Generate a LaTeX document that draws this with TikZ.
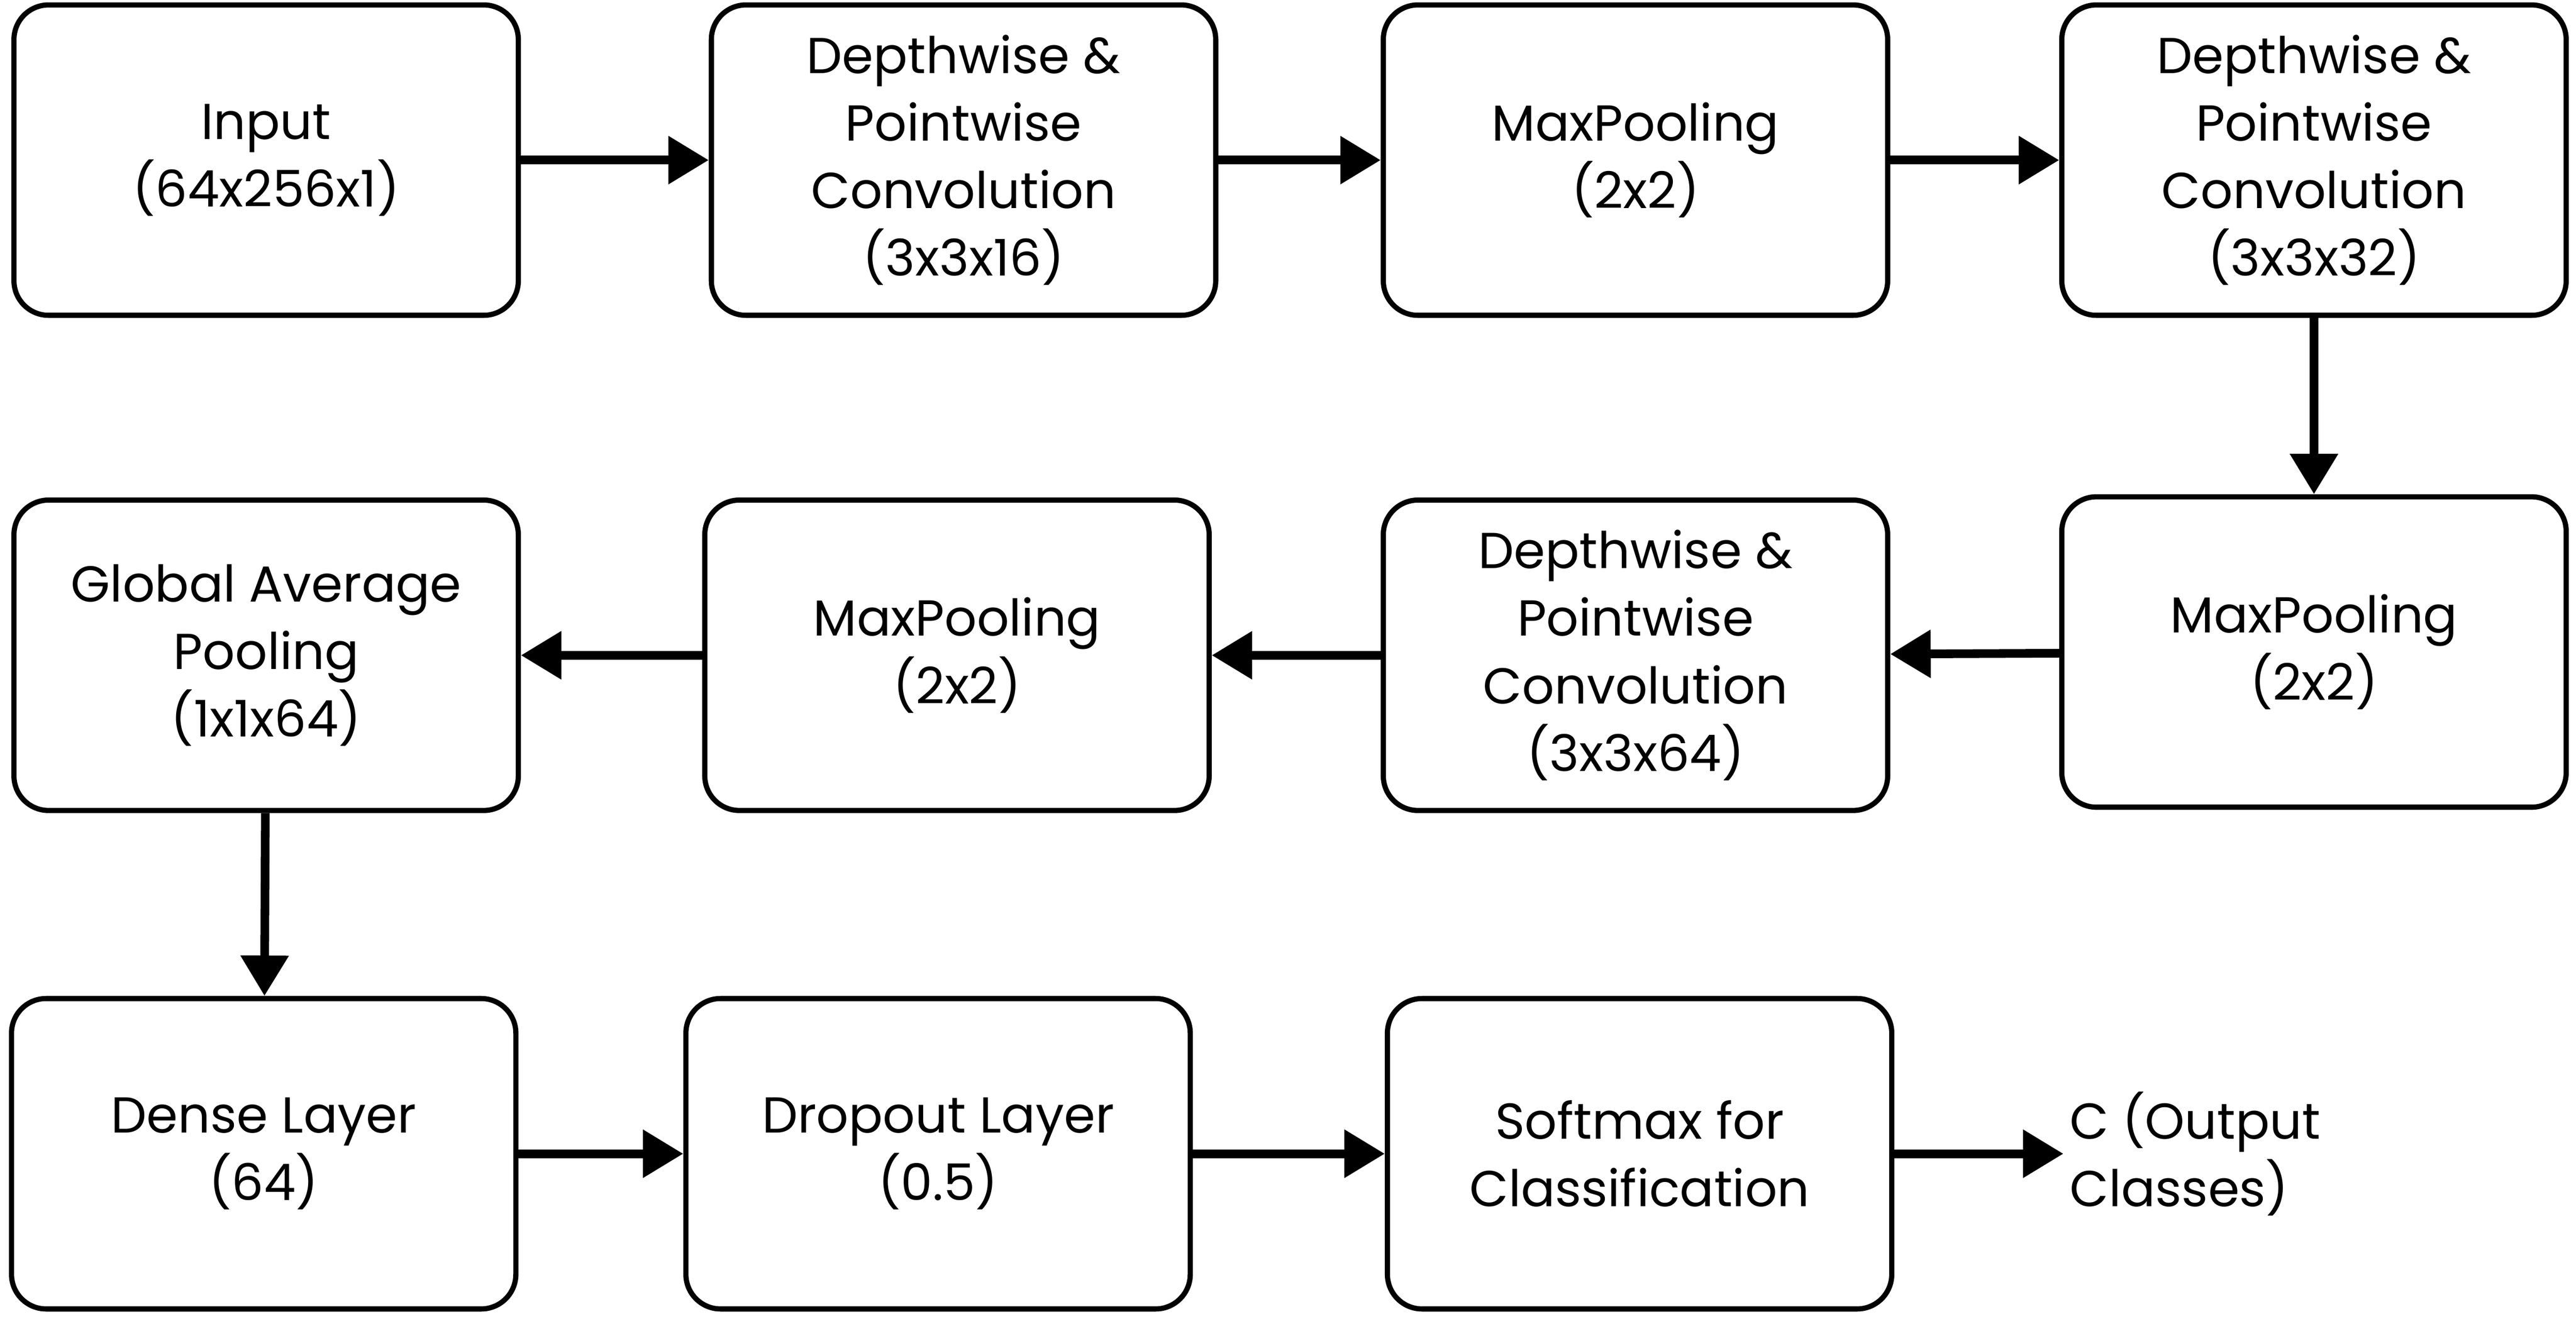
\documentclass[tikz,border=0pt]{standalone}
\usepackage{fontspec}
\setmainfont{Poppins}
\usetikzlibrary{arrows.meta}
\tikzset{
  layer/.style={draw, line width=1.8pt, rounded corners=12pt, minimum width=6.14cm,
    minimum height=3.78cm, align=center, font=\fontsize{17.5}{23.4}\selectfont},
  flow/.style={line width=3pt, -{Triangle[length=14pt,width=16pt]}}
}
\begin{document}
\begin{tikzpicture}
  \useasboundingbox (0,0) rectangle (31.36,-16.06);
  % First row
  \node[layer] (inp) at (3.24,-1.95) {Input\\(64x256x1)};
  \node[layer] (dw1) at (11.73,-1.95) {Depthwise \&\\Pointwise\\Convolution\\(3x3x16)};
  \node[layer] (mp1) at (19.91,-1.95) {MaxPooling\\(2x2)};
  \node[layer] (dw2) at (28.17,-1.95) {Depthwise \&\\Pointwise\\Convolution\\(3x3x32)};
  % Second row
  \node[layer] (mp2) at (28.17,-7.94) {MaxPooling\\(2x2)};
  \node[layer] (dw3) at (19.91,-7.98) {Depthwise \&\\Pointwise\\Convolution\\(3x3x64)};
  \node[layer] (mp3) at (11.65,-7.98) {MaxPooling\\(2x2)};
  \node[layer] (gap) at (3.24,-7.98) {Global Average\\Pooling\\(1x1x64)};
  % Third row
  \node[layer] (dense) at (3.21,-14.05) {Dense Layer\\(64)};
  \node[layer] (drop) at (11.42,-14.05) {Dropout Layer\\(0.5)};
  \node[layer] (soft) at (19.96,-14.05) {Softmax for\\Classification};
  \node[anchor=west, inner sep=2pt, align=left, font=\fontsize{17.5}{23.4}\selectfont] (out) at (25.12,-14.05) {C (Output\\Classes)};
  % Arrows
  \draw[flow] (inp) -- (dw1);
  \draw[flow] (dw1) -- (mp1);
  \draw[flow] (mp1) -- (dw2);
  \draw[flow] (dw2) -- (mp2);
  \draw[flow] (mp2) -- (dw3);
  \draw[flow] (dw3) -- (mp3);
  \draw[flow] (mp3) -- (gap);
  \draw[flow] (gap) -- (dense);
  \draw[flow] (dense) -- (drop);
  \draw[flow] (drop) -- (soft);
  \draw[flow] (soft) -- (out);
\end{tikzpicture}
\end{document}
